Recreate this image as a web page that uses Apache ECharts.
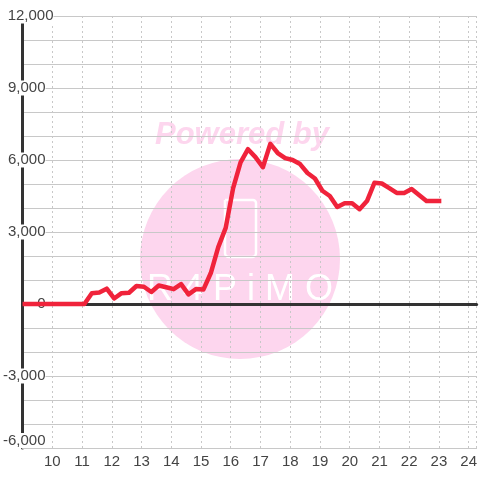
<!DOCTYPE html>
<html><head><meta charset="utf-8">
<style>html,body{margin:0;padding:0;background:#fff}#c{width:480px;height:480px}</style>
<script src="https://cdn.jsdelivr.net/npm/echarts@6/dist/echarts.min.js"></script>
</head><body><div id="c"></div>
<script>
const xValues = [9,11.08,11.33,11.58,11.83,12.08,12.33,12.58,12.83,13.08,13.33,13.58,13.83,14.08,14.33,14.58,14.83,15.08,15.33,15.58,15.83,16.08,16.33,16.58,16.83,17.08,17.33,17.58,17.83,18.08,18.33,18.58,18.83,19.08,19.33,19.58,19.83,20.08,20.33,20.58,20.83,21.08,21.33,21.58,21.83,22.08,22.33,22.58,22.83,23.08];
const yValues = [0,0,450,480,640,230,450,470,750,720,500,770,700,620,830,400,620,600,1290,2370,3170,4830,5900,6450,6120,5700,6670,6290,6080,6000,5830,5460,5230,4720,4500,4040,4200,4200,3950,4290,5050,5020,4830,4630,4630,4790,4540,4290,4290,4290];
const watermarkTop = 'Powered by';
const watermarkBottom = 'R4PiMO';
const font = '"Liberation Sans", Arial, sans-serif';
const fmt = v => Math.abs(v) >= 1000 ? (v < 0 ? '-' : '') + String(Math.abs(v)).replace(/(\d)(\d{3})$/, '$1,$2') : String(v);
const base = {type:'value',min:-6000,max:12000,interval:1000,position:'left',splitLine:{show:false},axisTick:{show:false},axisLine:{show:false}};
const lab = {color:'#444',fontFamily:font,fontSize:15,backgroundColor:'#fff',showMinLabel:true,showMaxLabel:true,hideOverlap:false};
const chart = echarts.init(document.getElementById('c'),null,{renderer:'canvas'});
chart.setOption({
  animation:false,
  backgroundColor:'#fff',
  grid:{left:20,right:0,top:16,bottom:32,containLabel:false},
  graphic:[
    {type:'circle',z:-10,shape:{cx:240,cy:259,r:100},style:{fill:'#fdd6ee'},silent:true},
    {type:'text',z:-10,x:242,y:135,style:{text:watermarkTop,fill:'#fdd6ee',font:'italic bold 31px "Liberation Sans"',align:'center',verticalAlign:'middle'},silent:true},
    {type:'rect',z:-9,shape:{x:225,y:200,width:31,height:57,r:[0,3,4,4]},style:{fill:'none',stroke:'#fff',lineWidth:2.5},silent:true},
    {type:'text',z:-9,x:240,y:290,style:{text:watermarkBottom.split('').join(' '),fill:'#fff',font:'36px "Liberation Sans"',align:'center',verticalAlign:'middle'},silent:true}
  ],
  xAxis:[
    {type:'value',min:9,max:27.4/3+15.133333,interval:1,position:'bottom',
     axisLine:{onZero:false,lineStyle:{color:'#c8c8c8',width:1}},axisTick:{show:false},
     splitLine:{show:true,lineStyle:{color:'#c8c8c8',type:[2,3],width:1}},
     axisLabel:{color:'#444',fontFamily:font,fontSize:15,margin:6,showMinLabel:true,showMaxLabel:true,hideOverlap:false,
       formatter:v=>(v>=10&&v<=24&&Number.isInteger(v))?String(v):''}},
    {type:'value',min:9,max:27.4/3+15.133333,position:'bottom',
     axisLine:{show:true,onZero:true,onZeroAxisIndex:0,lineStyle:{color:'#333',width:3}},
     axisTick:{show:false},axisLabel:{show:false},splitLine:{show:false}}
  ],
  yAxis:[
    Object.assign({},base,{axisLine:{show:true,onZero:false,lineStyle:{color:'#333',width:3}},
      splitLine:{show:true,lineStyle:{color:'#c8c8c8',width:1}},
      axisLabel:Object.assign({},lab,{margin:-23,formatter:v=>(v%3000===0&&v>-6000&&v<12000)?fmt(v):''})}),
    Object.assign({},base,{axisLabel:Object.assign({},lab,{margin:-31,formatter:v=>v===12000?fmt(v):''})}),
    Object.assign({},base,{axisLabel:Object.assign({},lab,{margin:-23,verticalAlign:'bottom',formatter:v=>v===-6000?fmt(v):''})})
  ],
  series:[{type:'line',xAxisIndex:0,yAxisIndex:0,data:xValues.map((x,i)=>[x,yValues[i]]),showSymbol:false,symbol:'none',z:10,
    lineStyle:{color:'#f0233b',width:4.5,join:'round'},clip:false}]
});
</script></body></html>
